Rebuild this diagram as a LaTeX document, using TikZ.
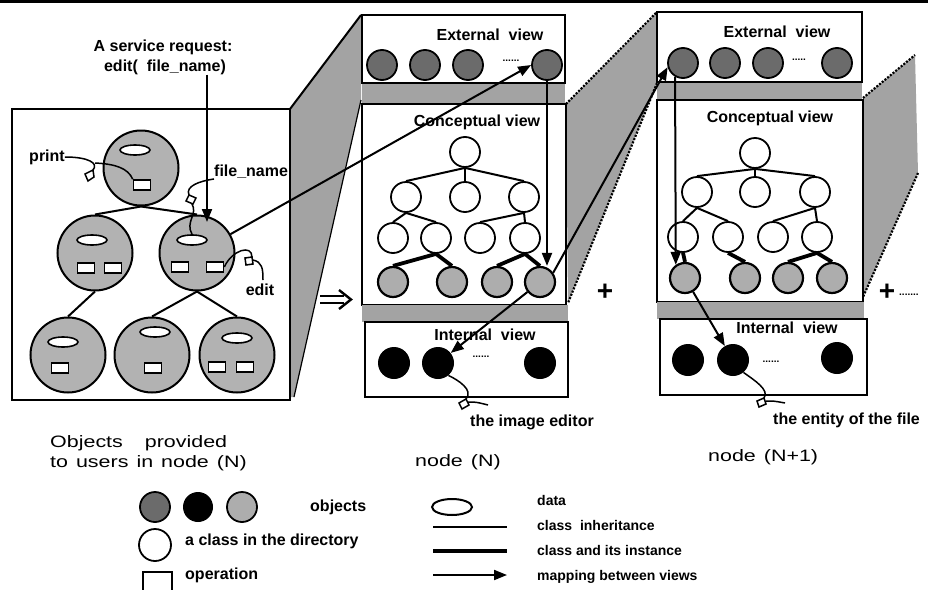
\documentclass[tikz,border=0pt]{standalone}
\usepackage{fontspec}
\setmainfont{Liberation Sans}
\newfontfamily\widefont[FakeStretch=1.3]{Liberation Sans}
\usetikzlibrary{shapes.geometric,arrows.meta}
\begin{document}
\begin{tikzpicture}[x=1pt,y=-1pt,
  obj/.style={circle,draw,line width=2.2pt,inner sep=0pt,minimum size=30pt,fill=black!32},
  extobj/.style={obj,line width=1.8pt,fill=black!58},
  intobj/.style={circle,fill=black,inner sep=0pt,minimum size=32pt},
  cls/.style={circle,draw,line width=1.8pt,inner sep=0pt,minimum size=30pt,fill=white},
  bigobj/.style={circle,draw,line width=2pt,inner sep=0pt,minimum size=75pt,fill=black!30},
  datum/.style={ellipse,draw,line width=1.6pt,fill=white,minimum width=30pt,minimum height=10pt,inner sep=0pt},
  oper/.style={rectangle,draw,line width=1.6pt,fill=white,minimum width=17pt,minimum height=10pt,inner sep=0pt},
  inh/.style={line width=2pt},
  inst/.style={line width=3.8pt},
  mapto/.style={line width=2pt,-{Triangle[length=13pt,width=10pt]}},
  wire/.style={line width=1.5pt},
  panel/.style={draw,line width=2pt,fill=white},
  fan/.style={fill=black!36},
  fanedge/.style={line width=2.2pt,dash pattern=on 2pt off 1.5pt},
  lbl/.style={font=\bfseries\fontsize{16}{18}\selectfont,inner sep=0pt},
  legtext/.style={font=\bfseries\fontsize{16}{18}\selectfont,inner sep=0pt,anchor=west},
  legtextn/.style={font=\bfseries\fontsize{14}{16}\selectfont,inner sep=0pt,anchor=west},
  big/.style={font=\widefont\fontsize{16.5}{19}\selectfont,inner sep=0pt,anchor=west},
  dots/.style={font=\bfseries\fontsize{10}{11}\selectfont,inner sep=0pt},
  plus/.style={font=\bfseries\fontsize{28}{30}\selectfont,inner sep=0pt},
]
\useasboundingbox (0,0) rectangle (928,589);
\fill[white] (0,0) rectangle (928,589);
\fill[black] (0,0) rectangle (928,3);

% ---------- shaded fans joining the panels ----------
\fill[fan] (290,109) -- (361,15) -- (361,100) -- (294,397) -- (290,397) -- cycle;
\draw[line width=2pt] (290,109) -- (361,15);
\draw[line width=1.2pt] (361,100) -- (294,397);

\fill[fan] (566,104) -- (656,13) -- (657,83) -- (568,303) -- cycle;
\draw[fanedge] (566,104) -- (656,13);
\draw[fanedge] (657,83) -- (568,303);

\fill[fan] (863,98) -- (915,55) -- (918,173) -- (863,297) -- cycle;
\draw[fanedge] (863,98) -- (915,55);
\draw[fanedge] (918,173) -- (863,297);

% ---------- objects provided to users ----------
\draw[panel] (12,109) rectangle (290,400);

\node[bigobj] (A) at (141,168) {};
\node[bigobj] (B) at (95,253) {};
\node[bigobj] (C) at (197,253) {};
\node[bigobj] (D) at (68,355) {};
\node[bigobj] (E) at (152,355) {};
\node[bigobj] (F) at (237,355) {};

\draw[inh] (A.south) -- (B.north);
\draw[inh] (A.south) -- (C.north);
\draw[inh] (B.south) -- (D.north);
\draw[inh] (C.south) -- (E.north);
\draw[inh] (C.south) -- (F.north);

\node[datum] (Ad) at (135,150) {};
\node[datum] (Bd) at (92,240) {};
\node[datum] (Cd) at (192,240) {};
\node[datum] (Dd) at (63,342) {};
\node[datum] (Ed) at (155,332) {};
\node[datum] (Fd) at (237,338) {};

\node[oper] (Ao) at (142,185) {};
\node[oper] (Bo1) at (86,268) {};
\node[oper] (Bo2) at (113,268) {};
\node[oper] (Co1) at (180,267) {};
\node[oper] (Co2) at (215,267) {};
\node[oper] (Do) at (60,368) {};
\node[oper] (Eo) at (153,368) {};
\node[oper] (Fo1) at (217,367) {};
\node[oper] (Fo2) at (245,367) {};

% operation and data names with their tags
\node[lbl] (print) at (47,157) {print};
\draw[wire] (print.east) .. controls (88,157) and (99,163) .. (93,170);
\draw[wire] (93,170) -- (85,174) -- (88,181) -- (94,177) -- cycle;
\draw[wire] (95,163) .. controls (115,164) and (128,168) .. (Ao.north west);

\node[lbl,anchor=west] (fname) at (214,172) {file\_name};
\draw[wire] (fname.south west) .. controls (200,181) and (185,186) .. (189,195);
\draw[wire] (189,195) -- (186,201) -- (193,204) -- (196,198) -- cycle;
\draw[wire] (192,204) .. controls (198,214) and (185,222) .. (Cd.north);

\node[lbl] (edit) at (260,290) {edit};
\draw[wire] (Co2.east) .. controls (232,250) and (252,244) .. (252,257);
\draw[wire] (252,257) -- (245,258) -- (246,265) -- (253,264) -- cycle;
\draw[wire] (253,260) .. controls (262,262) and (263,268) .. (263,280);

% the service request
\node[lbl] (req1) at (163,47) {A service request:};
\node[lbl] (req2) at (165,67) {edit(\ \ file\_name)};
\coordinate (Cin) at (207,222);
\draw[mapto] (Cin |- req2.south) -- (Cin);

% ---------- node (N) ----------
\fill[fan] (362,83) rectangle (565,104);
\draw[panel] (362,15) rectangle (565,83);
\draw[panel] (362,104) rectangle (566,305);
\fill[fan] (362,305) rectangle (568,322);
\draw[panel] (365,322) rectangle (568,397);

\node[lbl] at (490,35) {External\ \ view};
\node[extobj] (ne1) at (382,65) {};
\node[extobj] (ne2) at (425,65) {};
\node[extobj] (ne3) at (468,65) {};
\node[extobj] (ne4) at (547,65) {};
\node[dots] at (511,61) {......};

\node[lbl] at (477,122) {Conceptual view};
\node[cls] (nr) at (465,152) {};
\node[cls] (na1) at (406,197) {};
\node[cls] (na2) at (465,197) {};
\node[cls] (na3) at (524,197) {};
\node[cls] (nb1) at (393,238) {};
\node[cls] (nb2) at (436,238) {};
\node[cls] (nb3) at (480,238) {};
\node[cls] (nb4) at (525,238) {};
\node[obj] (nc1) at (393,282) {};
\node[obj] (nc2) at (452,282) {};
\node[obj] (nc3) at (497,282) {};
\node[obj] (nc4) at (540,282) {};
\draw[inh] (nr.south) -- (na1.north);
\draw[inh] (nr.south) -- (na2.north);
\draw[inh] (nr.south) -- (na3.north);
\draw[inh] (na1.south) -- (nb1.north);
\draw[inh] (na1.south) -- (nb2.north);
\draw[inh] (na3.south) -- (nb3.north);
\draw[inh] (na3.south) -- (nb4.north);
\draw[inst] (nb2.south) -- (nc1.north);
\draw[inst] (nb2.south) -- (nc2.north);
\draw[inst] (nb4.south) -- (nc3.north);
\draw[inst] (nb4.south) -- (nc4.north);

\node[lbl] (nint) at (485,335) {Internal\ \ view};
\node[intobj] (ni1) at (394,363) {};
\node[intobj] (ni2) at (438,363) {};
\node[intobj] (ni3) at (540,363) {};
\node[dots] at (481,357) {......};

\node[lbl,anchor=west] (imged) at (470,422) {the image editor};
\draw[wire] (ni2.-50) .. controls (458,380) and (474,390) .. (466,399);
\draw[wire] (466,399) -- (459,403) -- (462,409) -- (469,405) -- cycle;
\draw[wire] (468,402) .. controls (476,402) .. (488,405);

% ---------- node (N+1) ----------
\fill[fan] (657,82) rectangle (862,100);
\draw[panel] (657,12) rectangle (862,82);
\draw[panel] (657,100) rectangle (863,302);
\fill[fan] (657,302) rectangle (864,319);
\draw[panel] (660,319) rectangle (867,395);

\node[lbl] at (777,32) {External\ \ view};
\node[extobj] (me1) at (683,63) {};
\node[extobj] (me2) at (725,63) {};
\node[extobj] (me3) at (768,63) {};
\node[extobj] (me4) at (837,63) {};
\node[dots] at (799,60) {.....};

\node[lbl] at (770,118) {Conceptual view};
\node[cls] (mr) at (755,153) {};
\node[cls] (ma1) at (697,192) {};
\node[cls] (ma2) at (755,192) {};
\node[cls] (ma3) at (815,192) {};
\node[cls] (mb1) at (683,237) {};
\node[cls] (mb2) at (728,237) {};
\node[cls] (mb3) at (773,237) {};
\node[cls] (mb4) at (817,237) {};
\node[obj] (mc1) at (685,278) {};
\node[obj] (mc2) at (745,278) {};
\node[obj] (mc3) at (788,278) {};
\node[obj] (mc4) at (832,278) {};
\draw[inh] (mr.south) -- (ma1.north);
\draw[inh] (mr.south) -- (ma2.north);
\draw[inh] (mr.south) -- (ma3.north);
\draw[inh] (ma1.south) -- (mb1.north);
\draw[inh] (ma1.south) -- (mb2.north);
\draw[inh] (ma3.south) -- (mb3.north);
\draw[inh] (ma3.south) -- (mb4.north);
\draw[inst] (mb1.south) -- (mc1.north);
\draw[inst] (mb2.south) -- (mc2.north);
\draw[inst] (mb4.south) -- (mc3.north);
\draw[inst] (mb4.south) -- (mc4.north);

\node[lbl] (mint) at (787,328) {Internal\ \ view};
\node[intobj] (mi1) at (688,360) {};
\node[intobj] (mi2) at (733,360) {};
\node[intobj] (mi3) at (837,358) {};
\node[dots] at (771,362) {......};

\node[lbl,anchor=west] (entity) at (773,420) {the entity of the file};
\draw[wire] (mi2.-50) .. controls (754,380) and (770,390) .. (764,398);
\draw[wire] (764,398) -- (757,401) -- (759,407) -- (766,404) -- cycle;
\draw[wire] (766,401) .. controls (774,401) .. (785,403);

% ---------- mappings between views ----------
\draw[mapto] (C) -- (ne1.east -| ne4.west);
\draw[mapto] (ne4.south) -- (ne4.south |- nc4.north);
\draw[mapto] (nc4) -- (ni2);
\draw[mapto] (nc4.35) -- (me1.195);
\draw[mapto] (me1.240) -- (mc1.125);
\draw[mapto] (mc1) -- (mi2);

% composition signs
\draw[line width=2.4pt] (320,296) -- (344,296);
\draw[line width=2.4pt] (320,303) -- (344,303);
\draw[line width=2.4pt] (339,290) -- (351,299.5) -- (339,309);
\node[plus] (p1) at (605,292) {+};
\node[plus] (p2) at (887,292) {+};
\node[dots,anchor=west] at (899,295) {.......};

% ---------- captions ----------
\node[big] at (50,443) {Objects\hspace{22pt}provided};
\node[big] at (50,463) {to\hspace{8pt}users\hspace{8pt}in\hspace{8pt}node\hspace{8pt}(N)};
\node[big] at (415,462) {node\hspace{8pt}(N)};
\node[big] at (708,457) {node\hspace{8pt}(N+1)};

% ---------- legend ----------
\node[extobj] (lg1) at (155,507) {};
\node[intobj,minimum size=30pt] (lg2) at (198,507) {};
\node[obj,line width=1.8pt] (lg3) at (242,507) {};
\node[legtext] at (310,507) {objects};
\node[cls,minimum size=32pt] (lg4) at (155,545) {};
\node[legtext] at (185,541) {a class in the directory};
\node[rectangle,draw,line width=1.8pt,minimum width=29pt,minimum height=22pt,inner sep=0pt] (lg5) at (157.5,583) {};
\node[legtext] at (185,575) {operation};

\node[datum,minimum width=40pt,minimum height=16pt,line width=2pt] (lg6) at (452,507) {};
\node[legtextn] at (537,500) {data};
\coordinate (la1) at (433,527); \coordinate (la2) at (507,527);
\draw[inh] (la1) -- (la2);
\node[legtextn] at (537,525) {class\ \ inheritance};
\coordinate (lb1) at (433,551); \coordinate (lb2) at (507,551);
\draw[inst] (lb1) -- (lb2);
\node[legtextn] at (537,550) {class and its instance};
\coordinate (lc1) at (433,575); \coordinate (lc2) at (507,575);
\draw[mapto] (lc1) -- (lc2);
\node[legtextn] at (537,577) {mapping between views};
\end{tikzpicture}
\end{document}
